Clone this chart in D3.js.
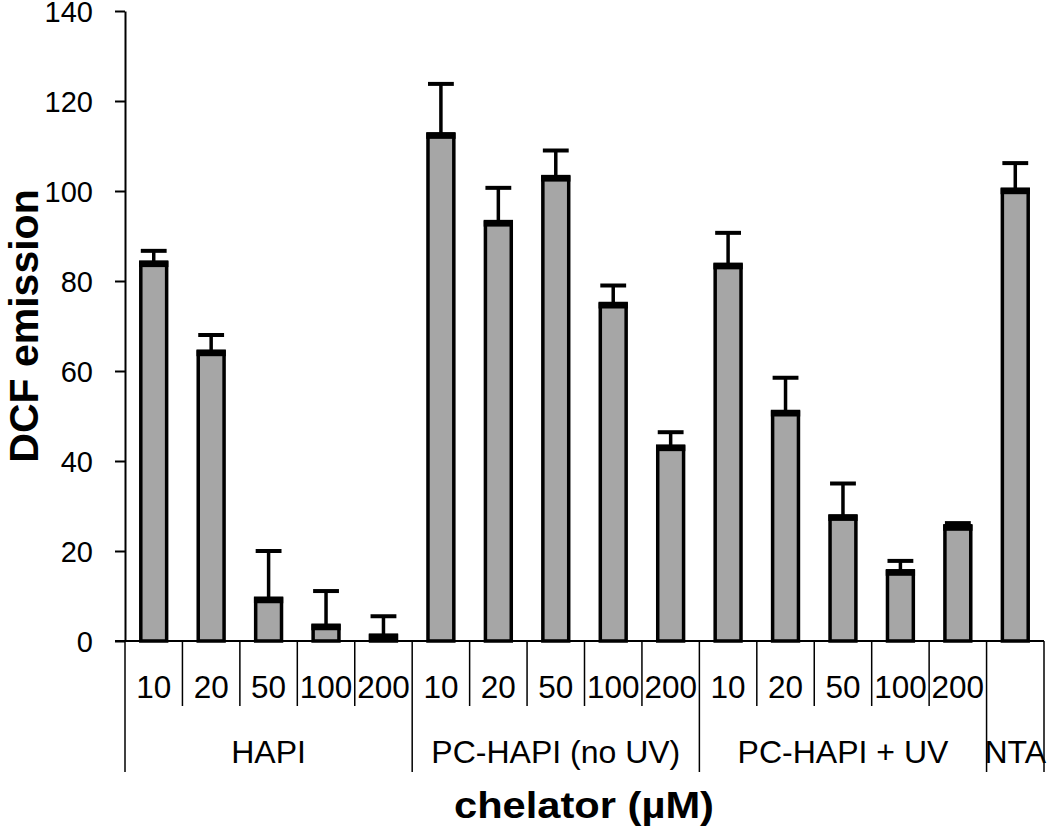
<!DOCTYPE html>
<html><head><meta charset="utf-8">
<script src="https://cdn.jsdelivr.net/npm/d3@7"></script>
<style>body{margin:0;background:#fff}svg{display:block}</style>
</head><body>
<svg id="chart" width="1050" height="831"></svg>
<script>
// ---- data ----
const groups = ["HAPI", "PC-HAPI (no UV)", "PC-HAPI + UV", "NTA"];
const categoryGroup = ["HAPI","HAPI","HAPI","HAPI","HAPI",
  "PC-HAPI (no UV)","PC-HAPI (no UV)","PC-HAPI (no UV)","PC-HAPI (no UV)","PC-HAPI (no UV)",
  "PC-HAPI + UV","PC-HAPI + UV","PC-HAPI + UV","PC-HAPI + UV","PC-HAPI + UV",
  "NTA"];
const concLabels = ["10","20","50","100","200","10","20","50","100","200","10","20","50","100","200",""];
const values = [84.2, 64.4, 9.5, 3.5, 1.3, 112.7, 93.2, 103.2, 75.0, 43.3, 83.7, 51.0, 27.8, 15.6, 25.6, 100.4];
const errors = [2.5, 3.6, 10.5, 7.6, 4.2, 11.1, 7.5, 5.8, 4.0, 3.1, 7.0, 7.5, 7.2, 2.2, 0.6, 5.8];
const yTicks = [0, 20, 40, 60, 80, 100, 120, 140];
const yTitle = "DCF emission";
const xTitle = "chelator (µM)";

// ---- chart ----
const svg = d3.select("#chart");
const font = "'Liberation Sans', Arial, Helvetica, sans-serif";
const idx = d3.range(values.length);
const x = d3.scaleBand().domain(idx).range([125, 1044]).paddingInner(0).paddingOuter(0);
const y = d3.scaleLinear().domain([0, 140]).range([641, 11]);
const barW = x.bandwidth() * 0.45;

// y axis
const yAxis = svg.append("g").attr("transform", "translate(125,0)")
  .call(d3.axisLeft(y).tickValues(yTicks).tickSize(10).tickSizeOuter(0).tickPadding(22));
yAxis.selectAll("path,line").attr("stroke", "#000").attr("stroke-width", 2);
yAxis.selectAll("text").attr("font-family", font).attr("font-size", 29).attr("fill", "#000").attr("dy", "0.36em");

// bars
const bars = svg.append("g");
bars.selectAll("rect").data(idx).join("rect")
  .attr("x", i => x(i) + (x.bandwidth() - barW) / 2)
  .attr("y", i => y(values[i]))
  .attr("width", barW)
  .attr("height", i => y(0) - y(values[i]))
  .attr("fill", "#a6a6a6").attr("stroke", "#000").attr("stroke-width", 3.5);
// thicker top edge
bars.selectAll("line.top").data(idx).join("line").attr("class", "top")
  .attr("x1", i => x(i) + (x.bandwidth() - barW) / 2 - 1.75)
  .attr("x2", i => x(i) + (x.bandwidth() + barW) / 2 + 1.75)
  .attr("y1", i => Math.min(y(values[i]) + 2, y(0)))
  .attr("y2", i => Math.min(y(values[i]) + 2, y(0)))
  .attr("stroke", "#000").attr("stroke-width", 6);

// error bars
const eb = svg.append("g").attr("stroke", "#000");
eb.selectAll("line.stem").data(idx).join("line").attr("class", "stem")
  .attr("x1", i => x(i) + x.bandwidth() / 2).attr("x2", i => x(i) + x.bandwidth() / 2)
  .attr("y1", i => y(values[i])).attr("y2", i => y(values[i] + errors[i]))
  .attr("stroke-width", 3.5);
eb.selectAll("line.cap").data(idx).join("line").attr("class", "cap")
  .attr("x1", i => x(i) + (x.bandwidth() - barW) / 2).attr("x2", i => x(i) + (x.bandwidth() + barW) / 2)
  .attr("y1", i => y(values[i] + errors[i])).attr("y2", i => y(values[i] + errors[i]))
  .attr("stroke-width", 4);

// x axis baseline
svg.append("line").attr("x1", 115).attr("x2", 1044).attr("y1", y(0)).attr("y2", y(0))
  .attr("stroke", "#000").attr("stroke-width", 2);

// separators
const boundaries = d3.range(values.length + 1);
const isGroupBoundary = b => b === 0 || b === values.length || categoryGroup[b] !== categoryGroup[b - 1];
const bx = b => b < values.length ? x(b) : x(values.length - 1) + x.bandwidth();
svg.append("g").selectAll("line").data(boundaries).join("line")
  .attr("x1", bx).attr("x2", bx)
  .attr("y1", y(0)).attr("y2", b => isGroupBoundary(b) ? 772 : 706)
  .attr("stroke", "#000").attr("stroke-width", 1.5);

// concentration labels
svg.append("g").selectAll("text").data(idx).join("text")
  .attr("x", i => x(i) + x.bandwidth() / 2).attr("y", 698)
  .attr("text-anchor", "middle").attr("font-family", font).attr("font-size", 31.5).attr("fill", "#000")
  .text(i => concLabels[i]);

// group labels
svg.append("g").selectAll("text").data(groups).join("text")
  .attr("x", g => {
    const members = idx.filter(i => categoryGroup[i] === g);
    const a = x(members[0]), b = x(members[members.length - 1]) + x.bandwidth();
    return (a + b) / 2;
  })
  .attr("y", 763).attr("text-anchor", "middle").attr("font-family", font).attr("font-size", 32).attr("fill", "#000")
  .text(g => g);

// titles
svg.append("text").attr("x", 584).attr("y", 818).attr("text-anchor", "middle")
  .attr("font-family", font).attr("font-size", 36).attr("font-weight", "bold")
  .attr("textLength", 260).attr("lengthAdjust", "spacingAndGlyphs").text(xTitle);
svg.append("text").attr("transform", "translate(38,326) rotate(-90)").attr("text-anchor", "middle")
  .attr("font-family", font).attr("font-size", 41).attr("font-weight", "bold").text(yTitle);
</script>
</body></html>
